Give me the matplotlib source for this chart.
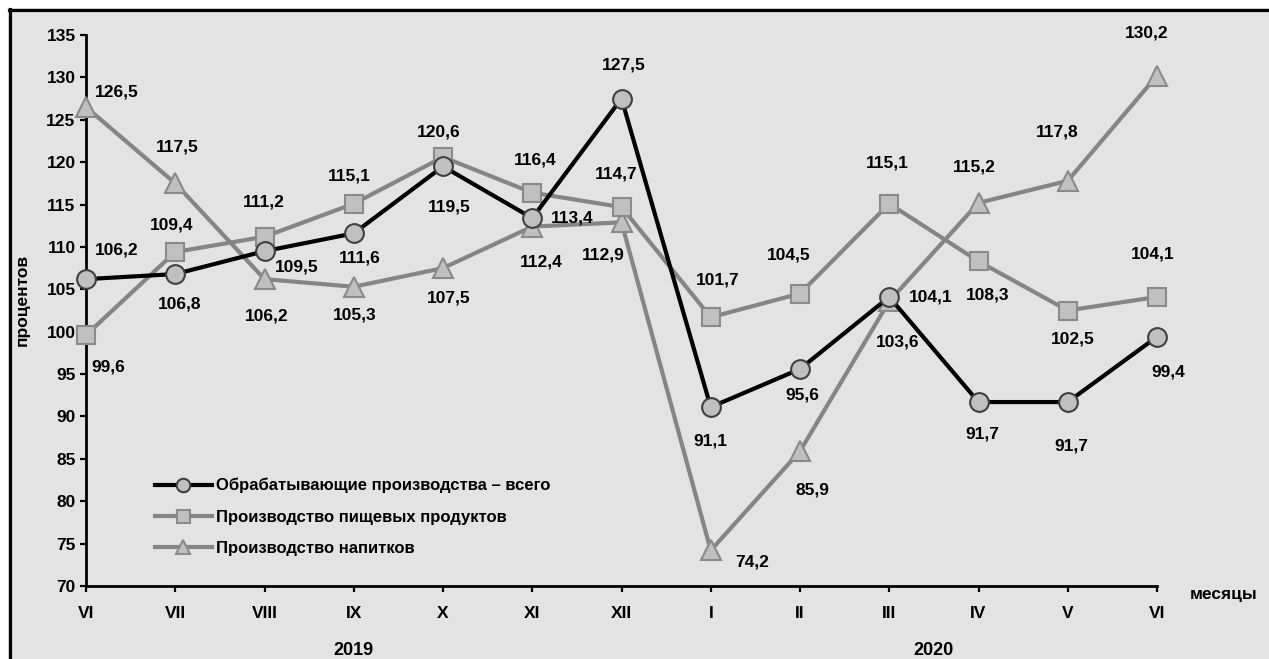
import matplotlib
matplotlib.use("Agg")
import matplotlib.pyplot as plt
from matplotlib.lines import Line2D

plt.rcParams["font.family"] = ["Liberation Sans", "DejaVu Sans"]
plt.rcParams["font.weight"] = "bold"
plt.rcParams["font.size"] = 12.5

months = ["VI", "VII", "VIII", "IX", "X", "XI", "XII", "I", "II", "III", "IV", "V", "VI"]
years = ["2019", "2020"]

manuf = [106.2, 106.8, 109.5, 111.6, 119.5, 113.4, 127.5, 91.1, 95.6, 104.1, 91.7, 91.7, 99.4]
food = [99.6, 109.4, 111.2, 115.1, 120.6, 116.4, 114.7, 101.7, 104.5, 115.1, 108.3, 102.5, 104.1]
drinks = [126.5, 117.5, 106.2, 105.3, 107.5, 112.4, 112.9, 74.2, 85.9, 103.6, 115.2, 117.8, 130.2]

names = ["Обрабатывающие производства – всего",
         "Производство пищевых продуктов",
         "Производство напитков"]

# label offsets in pixels (dx right, dy down)
off_manuf = [(31, -29), (4, 30), (32, 16), (6, 25), (6, 41), (40, 0), (2, -34),
             (0, 34), (2, 26), (41, 0), (4, 32), (4, 44), (11, 35)]
off_food = [(22, 32), (-4, -27), (-1, -35), (-4, -28), (-4, -25), (3, -33), (-5, -33),
            (7, -37), (-11, -39), (-2, -41), (9, 34), (5, 28), (-4, -43)]
off_drinks = [(31, -15), (2, -36), (2, 37), (1, 28), (6, 30), (9, 35), (-18, 33),
              (41, 12), (12, 39), (8, 41), (-4, -36), (-11, -49), (-10, -43)]

bg = "#e3e3e3"
W, H = 1269, 659
fig = plt.figure(figsize=(W / 100, H / 100), dpi=100, facecolor="white")
fig.patches.append(plt.Rectangle((8 / W, 0), 1, 1 - 8 / H, transform=fig.transFigure,
                                 facecolor=bg, edgecolor="none", zorder=-10))
fig.add_artist(Line2D([8.5 / W, 1], [1 - 9.5 / H, 1 - 9.5 / H], color="black", lw=2.3))
fig.add_artist(Line2D([9.5 / W, 9.5 / W], [0, 1 - 8.5 / H], color="black", lw=2.3))

ax = fig.add_axes([86 / W, 1 - 586 / H, (1157 - 86) / W, (586 - 35) / H])
ax.set_facecolor("none")

x = list(range(len(months)))
ax.plot(x, manuf, color="black", lw=3, marker="o", ms=13.5, mfc="#c0c0c0", mec="#404040",
        mew=1.5, label=names[0], zorder=5, clip_on=False)
ax.plot(x, food, color="#858585", lw=3, marker="s", ms=13, mfc="#c0c0c0", mec="#8a8a8a",
        mew=1.5, label=names[1], zorder=4, clip_on=False)
ax.plot(x, drinks, color="#858585", lw=3, marker="^", ms=14.5, mfc="#c0c0c0", mec="#8a8a8a",
        mew=1.5, label=names[2], zorder=3, clip_on=False)

for series, offs in [(manuf, off_manuf), (food, off_food), (drinks, off_drinks)]:
    for i, v in enumerate(series):
        dx, dy = offs[i]
        ax.annotate(f"{v:.1f}".replace(".", ","), (i, v), xytext=(dx * 0.72, -dy * 0.72),
                    textcoords="offset points", ha="center", va="center",
                    fontsize=12.5, fontweight="bold")

ax.set_xlim(0, 12)
ax.set_ylim(70, 135)
ax.set_yticks(range(70, 136, 5))
ax.set_xticks(x)
ax.set_xticklabels(months)
for s in ["top", "right"]:
    ax.spines[s].set_visible(False)
for s in ["left", "bottom"]:
    ax.spines[s].set_linewidth(2)
ax.tick_params(direction="out", length=4.5, width=1.6, labelsize=12.5)
ax.tick_params(axis="x", pad=10)
ax.tick_params(axis="y", pad=3)

fig.text(22 / W, 1 - 300 / H, "процентов", rotation=90, ha="center", va="center",
         fontsize=12.5, fontweight="bold")
ax.text(3, -0.117, years[0], transform=ax.get_xaxis_transform(), ha="center", va="center",
        fontsize=13, fontweight="bold")
ax.text(9.5, -0.117, years[1], transform=ax.get_xaxis_transform(), ha="center", va="center",
        fontsize=13, fontweight="bold")
fig.text(1190 / W, 1 - 595 / H, "месяцы", ha="left", va="center", fontsize=12.5,
         fontweight="bold")

leg = ax.legend(loc="upper left", bbox_to_anchor=(155 / W, 1 - 478 / H),
                bbox_transform=fig.transFigure, frameon=False, borderpad=0,
                borderaxespad=0, handlelength=3.4, handletextpad=0.25, labelspacing=0.98,
                markerscale=0.72, prop={"size": 12, "weight": "bold"})

plt.savefig("out.png", dpi=100, facecolor=fig.get_facecolor())
